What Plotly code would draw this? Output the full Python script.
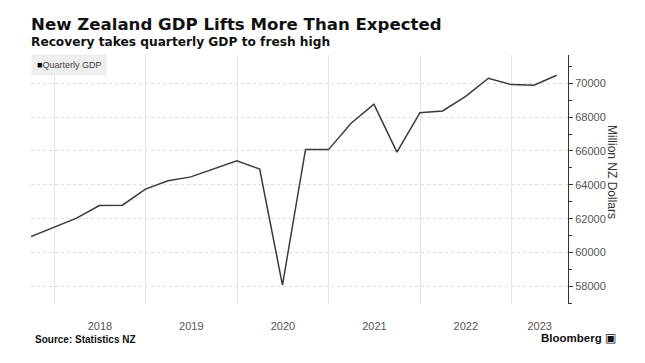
import plotly.graph_objects as go

quarters = ["2017-09-30", "2017-12-31", "2018-03-31", "2018-06-30", "2018-09-30", "2018-12-31",
            "2019-03-31", "2019-06-30", "2019-09-30", "2019-12-31", "2020-03-31", "2020-06-30",
            "2020-09-30", "2020-12-31", "2021-03-31", "2021-06-30", "2021-09-30", "2021-12-31",
            "2022-03-31", "2022-06-30", "2022-09-30", "2022-12-31", "2023-03-31", "2023-06-30"]
gdp = [60950, 61480, 62035, 62780, 62800, 63750,
       64240, 64470, 64940, 65420, 64930, 58080,
       66090, 66080, 67640, 68760, 65930, 68265,
       68365, 69210, 70295, 69920, 69880, 70470]
year_label_pos = ["2018-07-02", "2019-07-02", "2020-07-02", "2021-07-02", "2022-07-02", "2023-04-23"]
year_labels = ["2018", "2019", "2020", "2021", "2022", "2023"]
y_ticks = [58000, 60000, 62000, 64000, 66000, 68000, 70000]

fig = go.Figure()
fig.add_trace(go.Scatter(x=quarters, y=gdp, mode="lines", name="Quarterly GDP",
                         line=dict(color="#3a3a3a", width=1.5), showlegend=False))

fig.update_layout(
    width=645, height=363,
    margin=dict(l=31, r=77, t=55, b=59),
    paper_bgcolor="white", plot_bgcolor="white",
    font=dict(family="Liberation Sans", color="#555555"),
    xaxis=dict(
        type="date", range=["2017-09-30", "2023-08-14"],
        tickvals=year_label_pos, ticktext=year_labels,
        showgrid=False, showline=False, zeroline=False, ticks="",
        minor=dict(tick0="2018-01-01", dtick="M12", showgrid=True, gridcolor="#e4e4e4",
                   gridwidth=1, ticks=""),
        ticklabelstandoff=14,
        tickfont=dict(size=11, color="#555555"),
    ),
    yaxis=dict(
        side="right", range=[56960, 71670],
        tickvals=y_ticks, tickformat="d",
        showgrid=True, gridcolor="#dcdcdc", griddash="dot", gridwidth=1,
        showline=True, linecolor="#333333", linewidth=1,
        ticks="outside", ticklen=4, tickcolor="#333333", tickwidth=1,
        minor=dict(dtick=1000, tick0=0, ticks="outside", ticklen=3, tickcolor="#333333", showgrid=False),
        zeroline=False,
        tickfont=dict(size=11, color="#555555"),
    ),
)

fig.add_annotation(text="<b>New Zealand GDP Lifts More Than Expected</b>", xref="paper", yref="paper",
                   x=0, y=1, xanchor="left", yanchor="bottom", yshift=19, xshift=-2,
                   showarrow=False, font=dict(size=16.6, color="#111111", family="DejaVu Sans"))
fig.add_annotation(text="<b>Recovery takes quarterly GDP to fresh high</b>", xref="paper", yref="paper",
                   x=0, y=1, xanchor="left", yanchor="bottom", yshift=4, xshift=-2,
                   showarrow=False, font=dict(size=12.2, color="#111111", family="DejaVu Sans"))
fig.add_annotation(text="<span style='color:#000'>■</span>Quarterly GDP", xref="paper", yref="paper",
                   x=0, y=1, xanchor="left", yanchor="top", yshift=1,
                   showarrow=False, bgcolor="#eeeeee", borderpad=5,
                   font=dict(size=9, color="#444444", family="Liberation Sans"))
fig.add_annotation(text="Million NZ Dollars", xref="paper", yref="paper",
                   x=1, y=0.53, xanchor="center", yanchor="middle", xshift=44, textangle=90,
                   showarrow=False, font=dict(size=12, color="#333333", family="Liberation Sans"))
fig.add_annotation(text="<b>Source: Statistics NZ</b>", xref="paper", yref="paper",
                   x=0, y=0, xanchor="left", yanchor="middle", yshift=-35, xshift=2,
                   showarrow=False, font=dict(size=10, color="#111111", family="Liberation Sans"))
fig.add_annotation(text="<b>Bloomberg</b> ▣", xref="paper", yref="paper",
                   x=1, y=0, xanchor="right", yanchor="middle", yshift=-34, xshift=50,
                   showarrow=False, font=dict(size=11.5, color="#111111", family="Liberation Sans"))

fig.write_html("out.html", config={"displayModeBar": False},
               post_script="document.body.style.margin='0';")
